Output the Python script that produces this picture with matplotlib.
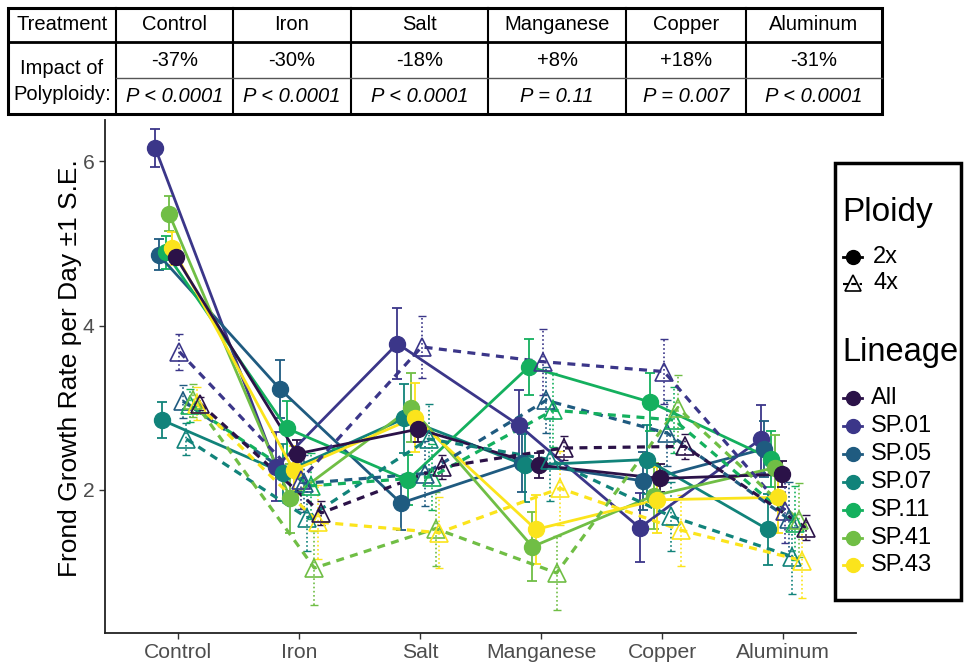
import numpy as np
import matplotlib.pyplot as plt
from matplotlib.patches import Rectangle

plt.rcParams['font.family'] = ['Liberation Sans', 'DejaVu Sans']

# treatments on x axis
treatments = ["Control", "Iron", "Salt", "Manganese", "Copper", "Aluminum"]
# dodge order (2x first, then 4x, same lineage order)
lineages = ["SP.01", "SP.05", "SP.07", "SP.11", "SP.41", "SP.43", "All"]
legend_order = ["All", "SP.01", "SP.05", "SP.07", "SP.11", "SP.41", "SP.43"]
colors = {
    "All": "#2b1248",
    "SP.01": "#3b3689",
    "SP.05": "#1f5b80",
    "SP.07": "#11837a",
    "SP.11": "#14b05e",
    "SP.41": "#70be45",
    "SP.43": "#fbe41c",
}

# growth rate means, diploids (2x)
mean_2x = {
    "SP.01": [6.16, 2.28, 3.78, 2.79, 1.54, 2.62],
    "SP.05": [4.86, 3.23, 1.84, 2.33, 2.11, 2.50],
    "SP.07": [2.85, 2.21, 2.87, 2.30, 2.37, 1.52],
    "SP.11": [4.89, 2.75, 2.12, 3.50, 3.07, 2.38],
    "SP.41": [5.36, 1.90, 3.00, 1.31, 1.93, 2.27],
    "SP.43": [4.94, 2.24, 2.88, 1.52, 1.88, 1.91],
    "All":   [4.83, 2.44, 2.74, 2.30, 2.14, 2.19],
}
se_2x = {
    "SP.01": [0.23, 0.42, 0.43, 0.42, 0.42, 0.41],
    "SP.05": [0.19, 0.35, 0.33, 0.35, 0.35, 0.34],
    "SP.07": [0.22, 0.35, 0.42, 0.45, 0.42, 0.43],
    "SP.11": [0.20, 0.33, 0.30, 0.34, 0.35, 0.34],
    "SP.41": [0.21, 0.42, 0.42, 0.42, 0.40, 0.40],
    "SP.43": [0.20, 0.30, 0.42, 0.42, 0.40, 0.43],
    "All":   [0.08, 0.17, 0.16, 0.15, 0.17, 0.16],
}
# tetraploids (4x)
mean_4x = {
    "SP.01": [3.68, 2.12, 3.74, 3.56, 3.44, 1.75],
    "SP.05": [3.08, 2.08, 2.20, 3.09, 2.69, 1.65],
    "SP.07": [2.62, 1.66, 2.62, 2.37, 1.68, 1.19],
    "SP.11": [3.03, 2.05, 2.16, 2.97, 2.85, 1.60],
    "SP.41": [3.09, 1.05, 1.53, 0.99, 3.00, 1.63],
    "SP.43": [3.05, 1.61, 1.48, 2.02, 1.51, 1.14],
    "All":   [3.05, 1.72, 2.28, 2.51, 2.53, 1.54],
}
se_4x = {
    "SP.01": [0.22, 0.35, 0.38, 0.40, 0.40, 0.40],
    "SP.05": [0.20, 0.35, 0.40, 0.40, 0.40, 0.45],
    "SP.07": [0.20, 0.40, 0.42, 0.50, 0.42, 0.45],
    "SP.11": [0.20, 0.40, 0.40, 0.45, 0.40, 0.45],
    "SP.41": [0.20, 0.45, 0.45, 0.45, 0.40, 0.45],
    "SP.43": [0.20, 0.45, 0.43, 0.45, 0.43, 0.45],
    "All":   [0.08, 0.15, 0.15, 0.15, 0.15, 0.15],
}

# table above the plot
impact = ["-37%", "-30%", "-18%", "+8%", "+18%", "-31%"]
pvals = ["P < 0.0001", "P < 0.0001", "P < 0.0001", "P = 0.11", "P = 0.007", "P < 0.0001"]

W, H = 964, 664
fig = plt.figure(figsize=(W / 100, H / 100), dpi=100)

ax = fig.add_axes([105 / W, 1 - 633 / H, (856 - 105) / W, (633 - 120) / H])
x = np.arange(1, len(treatments) + 1)
n_groups = 2 * len(lineages)
dodge = 0.4 / n_groups

g = 0
for ploidy, means, ses in [("2x", mean_2x, se_2x), ("4x", mean_4x, se_4x)]:
    for lin in lineages:
        xs = x + (g - (n_groups - 1) / 2) * dodge
        c = colors[lin]
        m = np.array(means[lin])
        s = np.array(ses[lin])
        if ploidy == "2x":
            ax.errorbar(xs, m, yerr=s, fmt='none', ecolor=c, elinewidth=1.3,
                        capsize=3.5, capthick=1.3, zorder=2)
            ax.plot(xs, m, '-', color=c, lw=2.0, zorder=3)
            ax.plot(xs, m, 'o', color=c, ms=11.5, zorder=4)
        else:
            eb = ax.errorbar(xs, m, yerr=s, fmt='none', ecolor=c, elinewidth=1.2,
                             capsize=3.0, capthick=1.0, zorder=2)
            eb[2][0].set_linestyle((0, (1, 1.5)))
            ax.plot(xs, m, color=c, lw=2.3, ls=(0, (2.5, 2.0)), zorder=3)
            ax.plot(xs, m, '^', mfc='none', mec=c, mew=1.2, ms=13, zorder=4)
        g += 1

ax.set_xlim(0.4, 6.6)
ax.set_ylim(0.26, 6.5)
ax.set_xticks(x)
ax.set_xticklabels(treatments)
ax.set_yticks([2, 4, 6])
ax.tick_params(axis='both', labelsize=15.2, labelcolor='#4d4d4d', color='#333333',
               length=4, width=1)
for side in ['top', 'right']:
    ax.spines[side].set_visible(False)
for side in ['left', 'bottom']:
    ax.spines[side].set_linewidth(1.3)
    ax.spines[side].set_color('#222222')

fig.text(70 / W, 1 - 368 / H, "Frond Growth Rate per Day \u00b11 S.E.", rotation=90,
         ha='center', va='center', fontsize=19)

# overlay in pixel coords for table and legend
ov = fig.add_axes([0, 0, 1, 1], zorder=5)
ov.set_xlim(0, W)
ov.set_ylim(H, 0)
ov.axis('off')
ov.patch.set_visible(False)

col_edges = [8, 116, 233, 351, 488, 626, 746, 882]
top, hdr, mid, bot = 8, 42, 78, 114
fs_tab = 14.5
ov.add_patch(Rectangle((col_edges[0], top), col_edges[-1] - col_edges[0], bot - top,
                       fill=False, lw=2.2, ec='black'))
for xe in col_edges[1:-1]:
    ov.plot([xe, xe], [top, bot], color='black', lw=1.5)
ov.plot([col_edges[0], col_edges[-1]], [hdr, hdr], color='black', lw=2.0)
ov.plot([col_edges[1], col_edges[-1]], [mid, mid], color='#555555', lw=1.0)

ov.text((col_edges[0] + col_edges[1]) / 2, (top + hdr) / 2, "Treatment",
        ha='center', va='center', fontsize=fs_tab)
ov.text((col_edges[0] + col_edges[1]) / 2, 68, "Impact of",
        ha='center', va='center', fontsize=fs_tab)
ov.text((col_edges[0] + col_edges[1]) / 2, 95, "Polyploidy:",
        ha='center', va='center', fontsize=fs_tab)
for i, t in enumerate(treatments):
    cx = (col_edges[i + 1] + col_edges[i + 2]) / 2
    ov.text(cx, (top + hdr) / 2, t, ha='center', va='center', fontsize=fs_tab)
    ov.text(cx, (hdr + mid) / 2, impact[i], ha='center', va='center', fontsize=fs_tab)
    ov.text(cx, (mid + bot) / 2, pvals[i], ha='center', va='center', fontsize=fs_tab,
            style='italic')

# legend box
ov.add_patch(Rectangle((835, 163), 126, 437, fc='white', ec='black', lw=2.5))
ov.text(842, 213, "Ploidy", ha='left', va='center', fontsize=24)
ov.plot([843, 862], [257, 257], '-', color='black', lw=2.0)
ov.plot([852.5], [257], 'o', color='black', ms=10)
ov.text(873, 257, "2x", ha='left', va='center', fontsize=17)
ov.plot([843, 862], [284, 284], color='black', lw=1.5, ls=(0, (2.5, 1.5)))
ov.plot([852.5], [283], '^', mfc='none', mec='black', mew=1.2, ms=11)
ov.text(873, 283, "4x", ha='left', va='center', fontsize=17)
ov.text(842, 352, "Lineage", ha='left', va='center', fontsize=23.5)
for i, lin in enumerate(legend_order):
    yy = 398 + i * 27.9
    ov.plot([843, 862], [yy, yy], '-', color=colors[lin], lw=2.0)
    ov.plot([852.5], [yy], 'o', color=colors[lin], ms=10)
    ov.text(871, yy, lin, ha='left', va='center', fontsize=17)

fig.savefig("out.png", dpi=100)
